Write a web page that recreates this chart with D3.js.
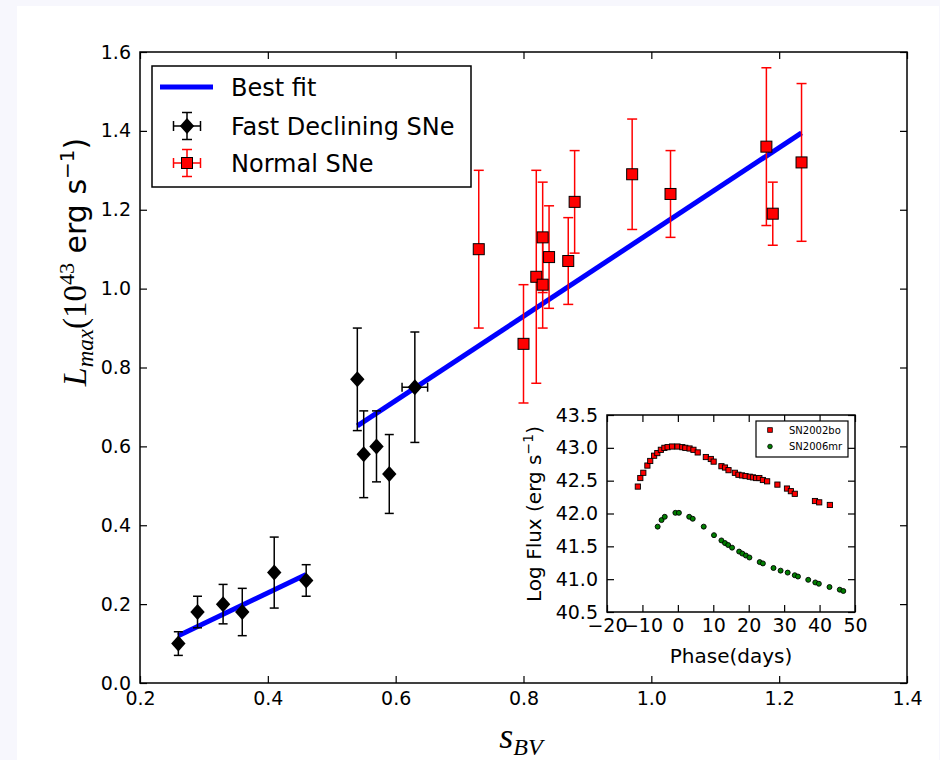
<!DOCTYPE html>
<html>
<head>
<meta charset="utf-8">
<script src="https://cdn.jsdelivr.net/npm/d3@7"></script>
<style>
  html, body { margin: 0; padding: 0; background: #f7f7fd; }
  svg { display: block; }
</style>
</head>
<body>
<svg id="chart" width="940" height="760"></svg>
<script>
// ---------------- DATA ----------------
const fastX    = [0.26, 0.29, 0.33, 0.36, 0.41, 0.46, 0.54, 0.55, 0.57, 0.59, 0.63];
const fastY    = [0.10, 0.18, 0.20, 0.18, 0.28, 0.26, 0.77, 0.58, 0.60, 0.53, 0.75];
const fastYErr = [0.03, 0.04, 0.05, 0.06, 0.09, 0.04, 0.13, 0.11, 0.09, 0.10, 0.14];
const fastXErr = [0, 0, 0, 0, 0, 0, 0, 0, 0, 0, 0.02];

const normalX    = [0.73, 0.80, 0.82, 0.83, 0.83, 0.84, 0.87, 0.88, 0.97, 1.03, 1.18, 1.19, 1.235];
const normalY    = [1.10, 0.86, 1.03, 1.13, 1.01, 1.08, 1.07, 1.22, 1.29, 1.24, 1.36, 1.19, 1.32];
const normalYErr = [0.20, 0.15, 0.27, 0.14, 0.11, 0.13, 0.11, 0.13, 0.14, 0.11, 0.20, 0.08, 0.20];

const fit1X = [0.26, 0.46];
const fit1Y = [0.12, 0.275];
const fit2X = [0.54, 1.235];
const fit2Y = [0.652, 1.395];

const xTicks = [0.2, 0.4, 0.6, 0.8, 1.0, 1.2, 1.4];
const yTicks = [0.0, 0.2, 0.4, 0.6, 0.8, 1.0, 1.2, 1.4, 1.6];

const legendLabels = ["Best fit", "Fast Declining SNe", "Normal SNe"];

// Inset light curves
const sn02boPhase = [-11.3, -10.6, -9.75, -8.6, -7.8, -6.7, -5.8, -4.8, -3.8, -2.9, -1.65, -0.1, 1.25, 2.1, 3.3, 4.4, 5.6, 7.9, 9.3, 10.1, 12.3, 13.3, 14.3, 16.1, 17.1, 18.1, 19.1, 20.3, 21.2, 22.1, 23.0, 24.0, 25.2, 28.1, 30.8, 31.9, 33.0, 38.7, 39.9, 42.9];
const sn02boFlux  = [42.41, 42.54, 42.62, 42.73, 42.80, 42.88, 42.92, 42.97, 43.00, 43.01, 43.02, 43.02, 43.01, 43.00, 42.99, 42.97, 42.93, 42.86, 42.83, 42.79, 42.72, 42.70, 42.66, 42.62, 42.59, 42.58, 42.57, 42.56, 42.55, 42.54, 42.54, 42.51, 42.49, 42.44, 42.38, 42.34, 42.30, 42.19, 42.17, 42.13];
const sn06mrPhase = [-5.7, -4.6, -3.7, -0.7, 0.3, 3.2, 4.2, 7.3, 10.2, 12.3, 13.3, 14.2, 15.3, 17.3, 18.2, 19.2, 20.2, 23.1, 24.0, 27.0, 29.0, 31.0, 33.0, 33.9, 36.8, 38.8, 39.8, 42.8, 45.7, 46.7];
const sn06mrFlux  = [41.80, 41.90, 41.95, 42.01, 42.01, 41.95, 41.92, 41.80, 41.67, 41.59, 41.55, 41.52, 41.48, 41.42, 41.39, 41.36, 41.33, 41.26, 41.24, 41.17, 41.13, 41.10, 41.06, 41.04, 40.99, 40.95, 40.93, 40.88, 40.84, 40.82];

const insetXTicks = [-20, -10, 0, 10, 20, 30, 40, 50];
const insetYTicks = [40.5, 41.0, 41.5, 42.0, 42.5, 43.0, 43.5];
const insetLegendLabels = ["SN2002bo", "SN2006mr"];

// ---------------- DRAW ----------------
const svg = d3.select("#chart");
const SANS = "'DejaVu Sans', sans-serif";
const SERIF = "'Liberation Serif', 'DejaVu Serif', serif";

// white figure area
svg.append("rect").attr("x", 17).attr("y", 6).attr("width", 922).attr("height", 754).attr("fill", "#ffffff");

const M = { left: 140, right: 907, top: 52, bottom: 683 };
const x = d3.scaleLinear().domain([0.2, 1.4]).range([M.left, M.right]);
const y = d3.scaleLinear().domain([0.0, 1.6]).range([M.bottom, M.top]);

const fmt1 = d3.format(".1f");
const minusFmt = d => (d < 0 ? "\u2212" + Math.abs(d) : String(d));

function styleAxis(g, size) {
  g.select(".domain").remove();
  g.selectAll(".tick line").attr("stroke", "#000").attr("stroke-width", 1.2);
  g.selectAll(".tick text").attr("fill", "#000").attr("font-family", SANS).attr("font-size", size);
}

// main axes
const gMain = svg.append("g");
gMain.append("g").attr("transform", `translate(0,${M.bottom})`)
  .call(d3.axisBottom(x).tickValues(xTicks).tickFormat(fmt1).tickSizeInner(-7).tickSizeOuter(0).tickPadding(9))
  .call(g => styleAxis(g, 19));
gMain.append("g").attr("transform", `translate(0,${M.top})`)
  .call(d3.axisTop(x).tickValues(xTicks).tickFormat("").tickSizeInner(-7).tickSizeOuter(0))
  .call(g => styleAxis(g, 19));
gMain.append("g").attr("transform", `translate(${M.left},0)`)
  .call(d3.axisLeft(y).tickValues(yTicks).tickFormat(fmt1).tickSizeInner(-7).tickSizeOuter(0).tickPadding(9))
  .call(g => styleAxis(g, 19));
gMain.append("g").attr("transform", `translate(${M.right},0)`)
  .call(d3.axisRight(y).tickValues(yTicks).tickFormat("").tickSizeInner(-7).tickSizeOuter(0))
  .call(g => styleAxis(g, 19));

// fit lines
const line = d3.line().x(d => x(d[0])).y(d => y(d[1]));
[[fit1X, fit1Y], [fit2X, fit2Y]].forEach(([fx, fy]) => {
  gMain.append("path").datum(fx.map((v, i) => [v, fy[i]]))
    .attr("d", line).attr("fill", "none").attr("stroke", "#0000ff").attr("stroke-width", 5);
});

// error bars
function errorBars(g, xs, ys, yerr, xerr, color, cap) {
  xs.forEach((xv, i) => {
    const cx = x(xv), y1 = y(ys[i] - yerr[i]), y2 = y(ys[i] + yerr[i]);
    g.append("line").attr("x1", cx).attr("x2", cx).attr("y1", y1).attr("y2", y2).attr("stroke", color).attr("stroke-width", 1.5);
    [y1, y2].forEach(yy => g.append("line").attr("x1", cx - cap).attr("x2", cx + cap).attr("y1", yy).attr("y2", yy).attr("stroke", color).attr("stroke-width", 1.5));
    if (xerr && xerr[i] > 0) {
      const x1 = x(xv - xerr[i]), x2 = x(xv + xerr[i]), cy = y(ys[i]);
      g.append("line").attr("x1", x1).attr("x2", x2).attr("y1", cy).attr("y2", cy).attr("stroke", color).attr("stroke-width", 1.5);
      [x1, x2].forEach(xx => g.append("line").attr("x1", xx).attr("x2", xx).attr("y1", cy - cap).attr("y2", cy + cap).attr("stroke", color).attr("stroke-width", 1.5));
    }
  });
}
errorBars(gMain, normalX, normalY, normalYErr, null, "#ff0000", 5);
errorBars(gMain, fastX, fastY, fastYErr, fastXErr, "#000000", 4.5);

const diamond = (cx, cy, r) => `M${cx},${cy - r}L${cx + r * 0.9},${cy}L${cx},${cy + r}L${cx - r * 0.9},${cy}Z`;

// black diamonds
gMain.selectAll("path.fast").data(fastX).enter().append("path")
  .attr("class", "fast")
  .attr("d", (d, i) => diamond(x(d), y(fastY[i]), 8))
  .attr("fill", "#000");

// red squares
gMain.selectAll("rect.normal").data(normalX).enter().append("rect")
  .attr("class", "normal")
  .attr("x", d => x(d) - 5.5)
  .attr("y", (d, i) => y(normalY[i]) - 5.5)
  .attr("width", 11).attr("height", 11)
  .attr("fill", "#ff0000").attr("stroke", "#000").attr("stroke-width", 1);

// frame
gMain.append("rect").attr("x", M.left).attr("y", M.top)
  .attr("width", M.right - M.left).attr("height", M.bottom - M.top)
  .attr("fill", "none").attr("stroke", "#000").attr("stroke-width", 1.5);

// legend
const lg = svg.append("g");
lg.append("rect").attr("x", 152).attr("y", 66).attr("width", 319).attr("height", 121)
  .attr("fill", "#fff").attr("stroke", "#000").attr("stroke-width", 1.5);
const rowsY = [87, 126, 163];
lg.append("line").attr("x1", 160).attr("x2", 213).attr("y1", rowsY[0]).attr("y2", rowsY[0])
  .attr("stroke", "#0000ff").attr("stroke-width", 5);
function legendErr(cx, cy, color) {
  lg.append("line").attr("x1", cx).attr("x2", cx).attr("y1", cy - 13.5).attr("y2", cy + 13.5).attr("stroke", color).attr("stroke-width", 1.5);
  lg.append("line").attr("x1", cx - 13.5).attr("x2", cx + 13.5).attr("y1", cy).attr("y2", cy).attr("stroke", color).attr("stroke-width", 1.5);
  [cy - 13.5, cy + 13.5].forEach(yy => lg.append("line").attr("x1", cx - 5).attr("x2", cx + 5).attr("y1", yy).attr("y2", yy).attr("stroke", color).attr("stroke-width", 1.5));
  [cx - 13.5, cx + 13.5].forEach(xx => lg.append("line").attr("x1", xx).attr("x2", xx).attr("y1", cy - 5).attr("y2", cy + 5).attr("stroke", color).attr("stroke-width", 1.5));
}
legendErr(187, rowsY[1], "#000");
lg.append("path").attr("d", diamond(187, rowsY[1], 8)).attr("fill", "#000");
legendErr(187, rowsY[2], "#ff0000");
lg.append("rect").attr("x", 187 - 5.5).attr("y", rowsY[2] - 5.5).attr("width", 11).attr("height", 11)
  .attr("fill", "#ff0000").attr("stroke", "#000").attr("stroke-width", 1);
legendLabels.forEach((t, i) => {
  lg.append("text").attr("x", 231).attr("y", rowsY[i]).attr("dy", "0.36em")
    .attr("font-family", SANS).attr("font-size", 24).attr("fill", "#000").text(t);
});

// y label
const yl = svg.append("text").attr("transform", "translate(86,262) rotate(-90)")
  .attr("text-anchor", "middle").attr("fill", "#000");
yl.append("tspan").attr("font-family", SERIF).attr("font-style", "italic").attr("font-size", 34).text("L");
yl.append("tspan").attr("font-family", SERIF).attr("font-style", "italic").attr("font-size", 23).attr("dy", 7).text("max");
yl.append("tspan").attr("font-family", SERIF).attr("font-size", 33).attr("dy", -7).text("(10");
yl.append("tspan").attr("font-family", SERIF).attr("font-size", 22).attr("dy", -12).text("43");
yl.append("tspan").attr("font-family", SANS).attr("font-size", 30).attr("dy", 12).text("\u00a0erg s");
yl.append("tspan").attr("font-family", SANS).attr("font-size", 20).attr("dy", -12).text("\u22121");
yl.append("tspan").attr("font-family", SANS).attr("font-size", 30).attr("dy", 12).text(")");

// x label
const xl = svg.append("text").attr("x", 521).attr("y", 748).attr("text-anchor", "middle").attr("fill", "#000");
xl.append("tspan").attr("font-family", SERIF).attr("font-style", "italic").attr("font-size", 36).text("s");
xl.append("tspan").attr("font-family", SERIF).attr("font-style", "italic").attr("font-size", 24).attr("dy", 7).text("BV");

// ---------------- INSET ----------------
const I = { left: 607, right: 855, top: 415, bottom: 612 };
const ix = d3.scaleLinear().domain([-20, 50]).range([I.left, I.right]);
const iy = d3.scaleLinear().domain([40.5, 43.5]).range([I.bottom, I.top]);
const gIn = svg.append("g");
gIn.append("rect").attr("x", I.left).attr("y", I.top).attr("width", I.right - I.left).attr("height", I.bottom - I.top).attr("fill", "#fff");

gIn.append("g").attr("transform", `translate(0,${I.bottom})`)
  .call(d3.axisBottom(ix).tickValues(insetXTicks).tickFormat(minusFmt).tickSizeInner(-7).tickSizeOuter(0).tickPadding(7))
  .call(g => styleAxis(g, 19));
gIn.append("g").attr("transform", `translate(0,${I.top})`)
  .call(d3.axisTop(ix).tickValues(insetXTicks).tickFormat("").tickSizeInner(-7).tickSizeOuter(0))
  .call(g => styleAxis(g, 19));
gIn.append("g").attr("transform", `translate(${I.left},0)`)
  .call(d3.axisLeft(iy).tickValues(insetYTicks).tickFormat(fmt1).tickSizeInner(-7).tickSizeOuter(0).tickPadding(9))
  .call(g => styleAxis(g, 19));
gIn.append("g").attr("transform", `translate(${I.right},0)`)
  .call(d3.axisRight(iy).tickValues(insetYTicks).tickFormat("").tickSizeInner(-7).tickSizeOuter(0))
  .call(g => styleAxis(g, 19));

gIn.selectAll("rect.bo").data(sn02boPhase).enter().append("rect").attr("class", "bo")
  .attr("x", d => ix(d) - 2.6).attr("y", (d, i) => iy(sn02boFlux[i]) - 2.6)
  .attr("width", 5.2).attr("height", 5.2)
  .attr("fill", "#ff0000").attr("stroke", "#000").attr("stroke-width", 0.9);
gIn.selectAll("circle.mr").data(sn06mrPhase).enter().append("circle").attr("class", "mr")
  .attr("cx", d => ix(d)).attr("cy", (d, i) => iy(sn06mrFlux[i])).attr("r", 2.5)
  .attr("fill", "#007f00").attr("stroke", "#000").attr("stroke-width", 0.9);

gIn.append("rect").attr("x", I.left).attr("y", I.top).attr("width", I.right - I.left).attr("height", I.bottom - I.top)
  .attr("fill", "none").attr("stroke", "#000").attr("stroke-width", 1.5);

// inset legend
gIn.append("rect").attr("x", 756).attr("y", 421).attr("width", 92).attr("height", 36)
  .attr("fill", "#fff").attr("stroke", "#000").attr("stroke-width", 1.2);
gIn.append("rect").attr("x", 770 - 2.3).attr("y", 430 - 2.3).attr("width", 4.6).attr("height", 4.6)
  .attr("fill", "#ff0000").attr("stroke", "#000").attr("stroke-width", 0.8);
gIn.append("circle").attr("cx", 770).attr("cy", 446.5).attr("r", 2.3)
  .attr("fill", "#007f00").attr("stroke", "#000").attr("stroke-width", 0.8);
insetLegendLabels.forEach((t, i) => {
  gIn.append("text").attr("x", 789).attr("y", [430, 446.5][i]).attr("dy", "0.36em")
    .attr("font-family", SANS).attr("font-size", 10).attr("fill", "#000").text(t);
});

// inset labels
gIn.append("text").attr("x", 731).attr("y", 663).attr("text-anchor", "middle")
  .attr("font-family", SANS).attr("font-size", 20).attr("fill", "#000").text("Phase(days)");
const iyl = gIn.append("text").attr("transform", "translate(541,514) rotate(-90)").attr("text-anchor", "middle")
  .attr("font-family", SANS).attr("font-size", 20).attr("fill", "#000");
iyl.append("tspan").text("Log Flux (erg s");
iyl.append("tspan").attr("font-size", 14).attr("dy", -8).text("\u22121");
iyl.append("tspan").attr("dy", 8).text(")");
</script>
</body>
</html>
